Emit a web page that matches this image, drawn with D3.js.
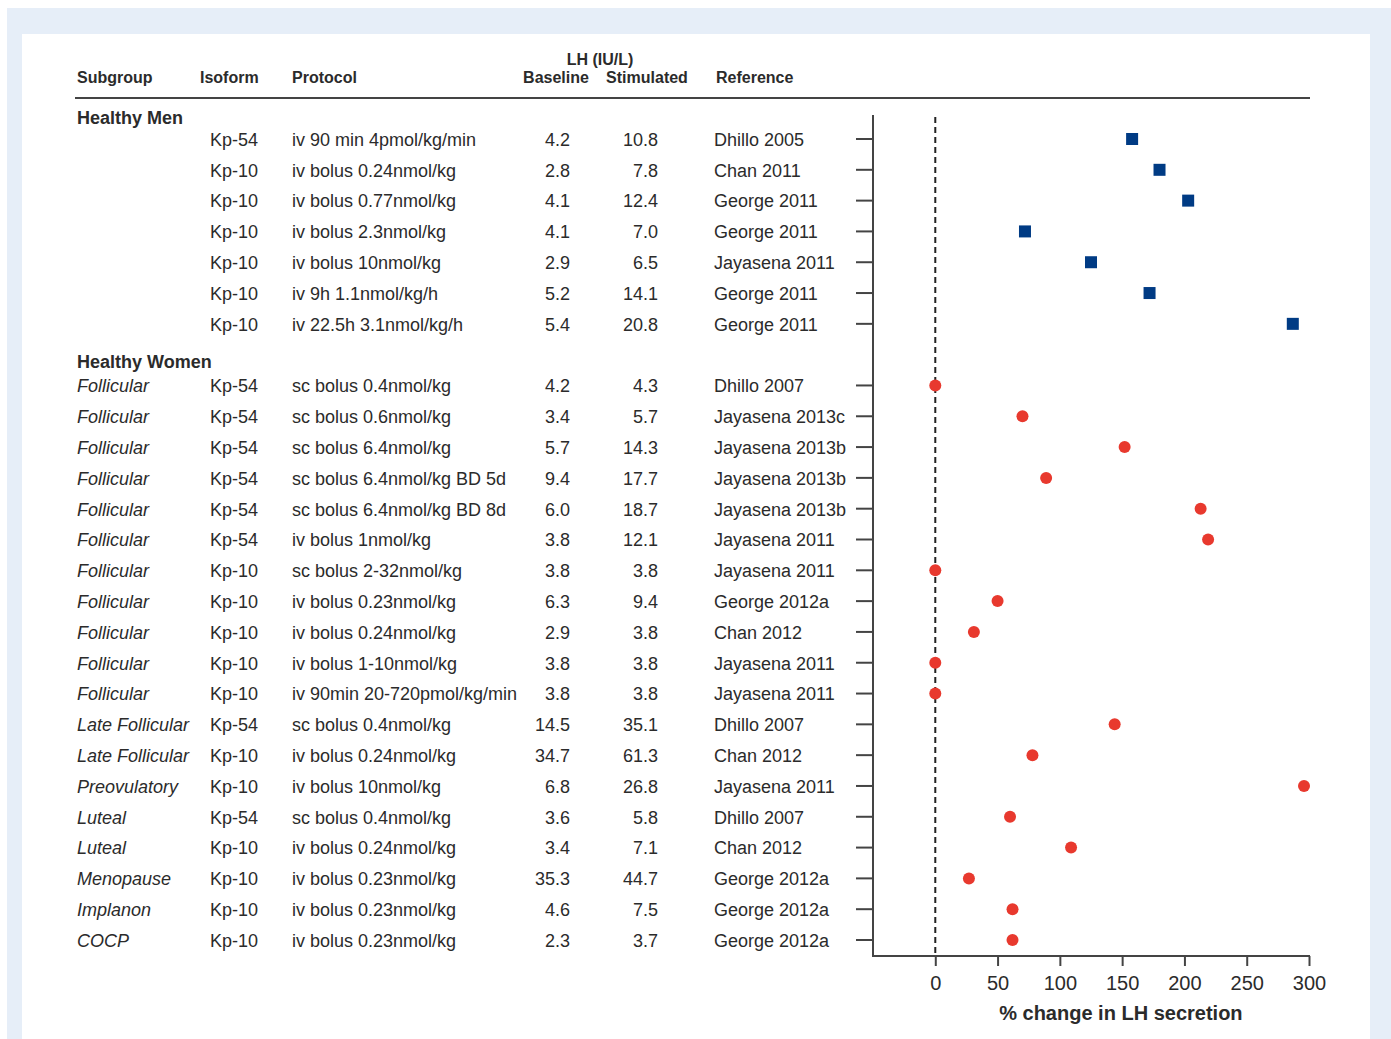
<!DOCTYPE html>
<html>
<head>
<meta charset="utf-8">
<script src="https://cdn.jsdelivr.net/npm/d3@7"></script>
<style>
  body { margin: 0; background: #fff; }
  svg { display: block; font-family: "Liberation Sans", Arial, sans-serif; }
</style>
</head>
<body>
<svg id="chart" width="1391" height="1039"></svg>
<script>
// rows: men 0-6, women 8-26
const subgroups = ['', '', '', '', '', '', '',
  'Follicular', 'Follicular', 'Follicular', 'Follicular', 'Follicular', 'Follicular', 'Follicular',
  'Follicular', 'Follicular', 'Follicular', 'Follicular', 'Late Follicular', 'Late Follicular',
  'Preovulatory', 'Luteal', 'Luteal', 'Menopause', 'Implanon', 'COCP'];
const isoforms = ['Kp-54', 'Kp-10', 'Kp-10', 'Kp-10', 'Kp-10', 'Kp-10', 'Kp-10',
  'Kp-54', 'Kp-54', 'Kp-54', 'Kp-54', 'Kp-54', 'Kp-54', 'Kp-10', 'Kp-10', 'Kp-10', 'Kp-10', 'Kp-10',
  'Kp-54', 'Kp-10', 'Kp-10', 'Kp-54', 'Kp-10', 'Kp-10', 'Kp-10', 'Kp-10'];
const protocols = ['iv 90 min 4pmol/kg/min', 'iv bolus 0.24nmol/kg', 'iv bolus 0.77nmol/kg',
  'iv bolus 2.3nmol/kg', 'iv bolus 10nmol/kg', 'iv 9h 1.1nmol/kg/h', 'iv 22.5h 3.1nmol/kg/h',
  'sc bolus 0.4nmol/kg', 'sc bolus 0.6nmol/kg', 'sc bolus 6.4nmol/kg', 'sc bolus 6.4nmol/kg BD 5d',
  'sc bolus 6.4nmol/kg BD 8d', 'iv bolus 1nmol/kg', 'sc bolus 2-32nmol/kg', 'iv bolus 0.23nmol/kg',
  'iv bolus 0.24nmol/kg', 'iv bolus 1-10nmol/kg', 'iv 90min 20-720pmol/kg/min', 'sc bolus 0.4nmol/kg',
  'iv bolus 0.24nmol/kg', 'iv bolus 10nmol/kg', 'sc bolus 0.4nmol/kg', 'iv bolus 0.24nmol/kg',
  'iv bolus 0.23nmol/kg', 'iv bolus 0.23nmol/kg', 'iv bolus 0.23nmol/kg'];
const baseline = ['4.2', '2.8', '4.1', '4.1', '2.9', '5.2', '5.4',
  '4.2', '3.4', '5.7', '9.4', '6.0', '3.8', '3.8', '6.3', '2.9', '3.8', '3.8',
  '14.5', '34.7', '6.8', '3.6', '3.4', '35.3', '4.6', '2.3'];
const stimulated = ['10.8', '7.8', '12.4', '7.0', '6.5', '14.1', '20.8',
  '4.3', '5.7', '14.3', '17.7', '18.7', '12.1', '3.8', '9.4', '3.8', '3.8', '3.8',
  '35.1', '61.3', '26.8', '5.8', '7.1', '44.7', '7.5', '3.7'];
const references = ['Dhillo 2005', 'Chan 2011', 'George 2011', 'George 2011', 'Jayasena 2011',
  'George 2011', 'George 2011',
  'Dhillo 2007', 'Jayasena 2013c', 'Jayasena 2013b', 'Jayasena 2013b', 'Jayasena 2013b',
  'Jayasena 2011', 'Jayasena 2011', 'George 2012a', 'Chan 2012', 'Jayasena 2011', 'Jayasena 2011',
  'Dhillo 2007', 'Chan 2012', 'Jayasena 2011', 'Dhillo 2007', 'Chan 2012', 'George 2012a',
  'George 2012a', 'George 2012a'];
const pctChange = [158, 180, 203, 72, 125, 172, 287,
  0, 70, 152, 89, 213, 219, 0, 50, 31, 0, 0,
  144, 78, 296, 60, 109, 27, 62, 62];
const groups = ['Healthy Men', 'Healthy Women'];
const xTicks = [0, 50, 100, 150, 200, 250, 300];

const rows = pctChange.map((v, i) => ({
  slot: i < 7 ? i : i + 1,
  men: i < 7,
  subgroup: subgroups[i],
  isoform: isoforms[i],
  protocol: protocols[i],
  baseline: baseline[i],
  stimulated: stimulated[i],
  reference: references[i],
  value: v
}));

const svg = d3.select('#chart');

// background frame
svg.append('rect').attr('x', 7).attr('y', 8).attr('width', 1384).attr('height', 1031).attr('fill', '#e6eef8');
svg.append('rect').attr('x', 22).attr('y', 34).attr('width', 1348).attr('height', 1005).attr('fill', '#fff');

const x = d3.scaleLinear().domain([-50, 300]).range([873, 1309]);
const y = d3.scaleLinear().domain([0, 26]).range([139, 940]);

const textColor = '#2b2b2b';

// header
const header = svg.append('g').attr('font-size', 16).attr('font-weight', 'bold').attr('fill', textColor);
header.append('text').attr('x', 77).attr('y', 83).text('Subgroup');
header.append('text').attr('x', 200).attr('y', 83).text('Isoform');
header.append('text').attr('x', 292).attr('y', 83).text('Protocol');
header.append('text').attr('x', 600).attr('y', 65).attr('text-anchor', 'middle').text('LH (IU/L)');
header.append('text').attr('x', 556).attr('y', 83).attr('text-anchor', 'middle').text('Baseline');
header.append('text').attr('x', 647).attr('y', 83).attr('text-anchor', 'middle').text('Stimulated');
header.append('text').attr('x', 716).attr('y', 83).text('Reference');

svg.append('line').attr('x1', 75).attr('x2', 1310).attr('y1', 98).attr('y2', 98)
  .attr('stroke', '#444').attr('stroke-width', 2);

// group labels
svg.selectAll('text.group').data(groups).enter().append('text')
  .attr('class', 'group')
  .attr('x', 77)
  .attr('y', (d, i) => i === 0 ? y(-0.68) : y(7.24))
  .attr('dy', '0.35em')
  .attr('font-size', 18).attr('font-weight', 'bold').attr('fill', textColor)
  .text(d => d);

// table rows
const rowG = svg.selectAll('g.row').data(rows).enter().append('g')
  .attr('class', 'row')
  .attr('transform', d => `translate(0,${y(d.slot)})`)
  .attr('font-size', 18).attr('fill', textColor);

rowG.append('text').attr('x', 77).attr('dy', '0.38em').attr('font-style', 'italic').text(d => d.subgroup);
rowG.append('text').attr('x', 210).attr('dy', '0.38em').text(d => d.isoform);
rowG.append('text').attr('x', 292).attr('dy', '0.38em').text(d => d.protocol);
rowG.append('text').attr('x', 570).attr('dy', '0.38em').attr('text-anchor', 'end').text(d => d.baseline);
rowG.append('text').attr('x', 658).attr('dy', '0.38em').attr('text-anchor', 'end').text(d => d.stimulated);
rowG.append('text').attr('x', 714).attr('dy', '0.38em').text(d => d.reference);

// plot axes
const axisColor = '#444';
svg.append('line').attr('x1', x(-50)).attr('x2', x(-50)).attr('y1', 115).attr('y2', 957)
  .attr('stroke', axisColor).attr('stroke-width', 2);

svg.selectAll('line.ytick').data(rows).enter().append('line')
  .attr('class', 'ytick')
  .attr('x1', x(-50) - 17).attr('x2', x(-50))
  .attr('y1', d => y(d.slot)).attr('y2', d => y(d.slot))
  .attr('stroke', axisColor).attr('stroke-width', 2);

const xAxis = svg.append('g')
  .attr('transform', 'translate(0,956)')
  .call(d3.axisBottom(x).tickValues(xTicks).tickSize(10).tickPadding(10).tickSizeOuter(0));
xAxis.select('.domain').attr('stroke', axisColor).attr('stroke-width', 2)
  .attr('d', `M${x(-50) - 1},0H${x(300) + 1}`);
xAxis.selectAll('.tick line').attr('stroke', axisColor).attr('stroke-width', 2);
xAxis.selectAll('.tick text').attr('font-size', 20).attr('fill', textColor)
  .attr('font-family', '"Liberation Sans", Arial, sans-serif');

svg.append('text').attr('x', x(149)).attr('y', 1020).attr('text-anchor', 'middle')
  .attr('font-size', 20).attr('font-weight', 'bold').attr('fill', textColor)
  .text('% change in LH secretion');

// zero reference
svg.append('line').attr('x1', x(0)).attr('x2', x(0)).attr('y1', 117).attr('y2', 955)
  .attr('stroke', '#222').attr('stroke-width', 2).attr('stroke-dasharray', '6,4');

// markers
const size = 12;
svg.selectAll('rect.men').data(rows.filter(d => d.men)).enter().append('rect')
  .attr('class', 'men')
  .attr('x', d => x(d.value) - size / 2).attr('y', d => y(d.slot) - size / 2)
  .attr('width', size).attr('height', size)
  .attr('fill', '#003b84');

svg.selectAll('circle.women').data(rows.filter(d => !d.men)).enter().append('circle')
  .attr('class', 'women')
  .attr('cx', d => x(d.value)).attr('cy', d => y(d.slot))
  .attr('r', 6)
  .attr('fill', '#e8392e');
</script>
</body>
</html>
